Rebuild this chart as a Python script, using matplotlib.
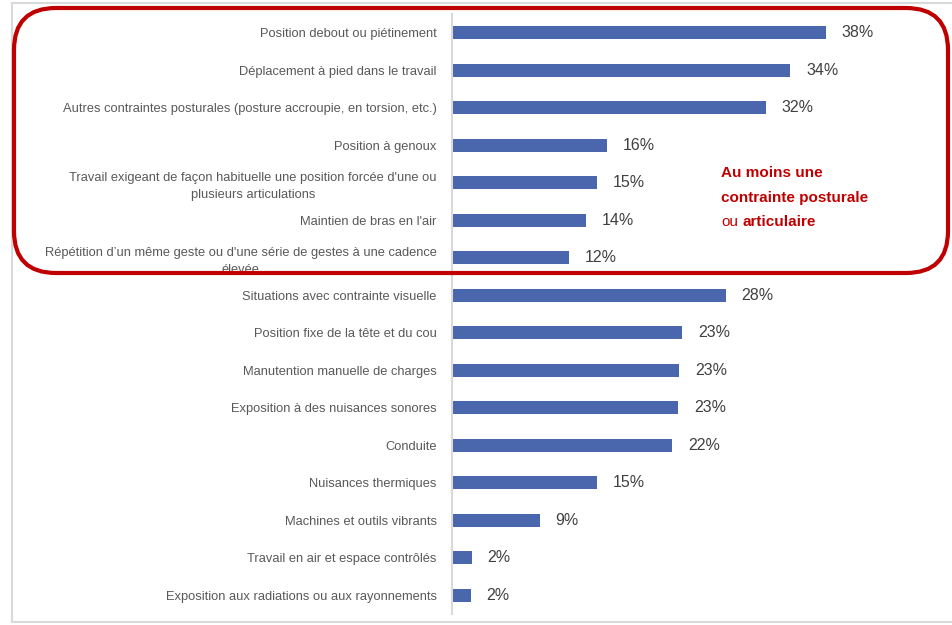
import matplotlib.pyplot as plt
from matplotlib.patches import FancyBboxPatch
from matplotlib.lines import Line2D

# categories top to bottom
categories = [
    "Position debout ou piétinement",
    "Déplacement à pied dans le travail",
    "Autres contraintes posturales (posture accroupie, en torsion, etc.)",
    "Position à genoux",
    "Travail exigeant de façon habituelle une position forcée d'une ou\nplusieurs articulations",
    "Maintien de bras en l'air",
    "Répétition d’un même geste ou d'une série de gestes à une cadence\nélevée",
    "Situations avec contrainte visuelle",
    "Position fixe de la tête et du cou",
    "Manutention manuelle de charges",
    "Exposition à des nuisances sonores",
    "Conduite",
    "Nuisances thermiques",
    "Machines et outils vibrants",
    "Travail en air et espace contrôlés",
    "Exposition aux radiations ou aux rayonnements",
]
values = [38.0, 34.4, 31.9, 15.8, 14.7, 13.6, 11.9, 27.8,
          23.4, 23.1, 23.0, 22.4, 14.7, 8.9, 2.0, 1.9]
value_labels = ["38%", "34%", "32%", "16%", "15%", "14%", "12%", "28%",
                "23%", "23%", "23%", "22%", "15%", "9%", "2%", "2%"]

font = ["Liberation Sans", "DejaVu Sans"]
bar_color = "#4A66AC"
red = "#C00000"

W, H = 953, 625
fig = plt.figure(figsize=(W / 100, H / 100), dpi=100)
# axes placed in pixel terms: left 452, top 14, bottom 614, right 940
ax = fig.add_axes([452 / W, 1 - 614 / H, (940 - 452) / W, (614 - 14) / H])

pos = list(range(len(categories)))
ax.barh(pos, values, height=0.35, color=bar_color)
ax.set_ylim(len(categories) - 0.5, -0.5)
ax.set_xlim(0, (940 - 452) / 9.84)

for p, v, lab in zip(pos, values, value_labels):
    ax.text(v + 1.6, p, lab, va="center", ha="left", fontsize=11.5,
            color="#404040", family=font)

ax.set_yticks(pos)
ax.set_yticklabels(categories, fontsize=9.3, color="#595959", family=font,
                   multialignment="center", linespacing=1.5)
ax.tick_params(axis="y", length=0, pad=11)
ax.set_xticks([])
for s in ["top", "right", "bottom"]:
    ax.spines[s].set_visible(False)
ax.spines["left"].set_color("#D9D9D9")
ax.spines["left"].set_linewidth(1.5)

# light gray outer frame
px = lambda x: x / W
py = lambda y: 1 - y / H
gray = "#D9D9D9"
fig.add_artist(Line2D([px(12), px(12)], [py(3), py(622)], color=gray, lw=1.5,
                      transform=fig.transFigure))
fig.add_artist(Line2D([px(12), 1], [py(3), py(3)], color=gray, lw=1.5,
                      transform=fig.transFigure))
fig.add_artist(Line2D([px(12), 1], [py(622), py(622)], color=gray, lw=1.5,
                      transform=fig.transFigure))

# red rounded box around the posture group
box = FancyBboxPatch((0.14, (H - 273) / 100), 9.34, (273 - 8) / 100,
                     boxstyle="round,pad=0,rounding_size=0.42",
                     transform=fig.dpi_scale_trans, fill=False,
                     edgecolor=red, linewidth=3, zorder=10)
fig.add_artist(box)

fs_red = 11
fig.text(px(721), py(173), "Au moins une", color=red, fontsize=fs_red,
         fontweight="bold", family=font, va="center", ha="left")
fig.text(px(721), py(198), "contrainte posturale", color=red, fontsize=fs_red,
         fontweight="bold", family=font, va="center", ha="left")
t_ou = fig.text(px(721), py(222), "ou", color=red, fontsize=fs_red,
                family=font, va="center", ha="left")
ax.annotate("articulaire", xy=(1, 0.5), xycoords=t_ou, xytext=(3, 0),
            textcoords="offset points", va="center", ha="left",
            color=red, fontsize=fs_red, fontweight="bold", family=font,
            annotation_clip=False)

fig.savefig("out.png", dpi=100)
